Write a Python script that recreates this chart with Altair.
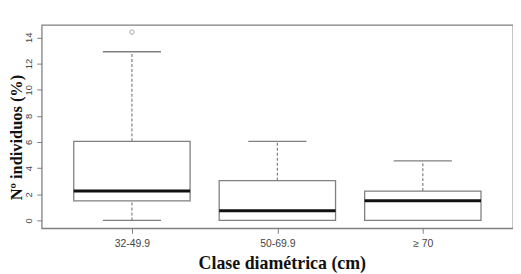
import altair as alt
import pandas as pd

categories = ["32-49.9", "50-69.9", "≥ 70"]
positions = [1, 2, 3]
lower_whisker = [0.0, 0.0, 0.0]
q1 = [1.5, 0.0, 0.0]
median = [2.25, 0.75, 1.5]
q3 = [6.05, 3.05, 2.25]
upper_whisker = [12.9, 6.05, 4.55]
outlier_pos = [1]
outlier_val = [14.4]
y_ticks = [0, 2, 4, 6, 8, 10, 12, 14]

df = pd.DataFrame({
    "cat": categories, "pos": positions, "lw": lower_whisker, "q1": q1,
    "med": median, "q3": q3, "uw": upper_whisker,
})
out_df = pd.DataFrame({"pos": outlier_pos, "val": outlier_val})

GRAY = "#808080"
label_expr = "[" + ",".join("'" + c + "'" for c in categories) + "][datum.value - 1]"

x_scale = alt.Scale(domain=[0.38, 3.62], nice=False, zero=False)
y_scale = alt.Scale(domain=[-0.6, 14.95], nice=False, zero=False)

xaxis = alt.Axis(
    values=positions, labelExpr=label_expr, title="Clase diamétrica (cm)",
    domain=False, grid=False, ticks=True, tickSize=5, tickColor=GRAY,
    labelFont="Liberation Sans", labelFontSize=10.5, labelColor="#444",
    labelPadding=5, titleFont="Liberation Serif", titleFontSize=18,
    titleFontWeight="bold", titleColor="#111", titleX=242, titleY=36,
    titleBaseline="middle", titleAlign="center",
)
yaxis = alt.Axis(
    values=y_ticks, title="Nº individuos (%)", domain=False, grid=False,
    tickSize=5, tickColor=GRAY, labelAngle=-90, labelAlign="center",
    labelBaseline="bottom", labelPadding=3, labelFont="Liberation Sans",
    labelFontSize=9.5, labelColor="#444", titleFont="Liberation Serif",
    titleFontSize=16.5, titleFontWeight="bold", titleColor="#111",
    titleAngle=-90, titleX=-25, titleY=113, titleAlign="center",
    titleBaseline="middle",
)

base = alt.Chart(df).transform_calculate(
    xl="datum.pos - 0.4", xr="datum.pos + 0.4",
    cl="datum.pos - 0.2", cr="datum.pos + 0.2",
)

X = lambda f: alt.X(f, scale=x_scale, axis=xaxis)
Y = lambda f: alt.Y(f, scale=y_scale, axis=yaxis)

whisk_lo = base.mark_rule(color=GRAY, strokeDash=[3, 2], strokeWidth=1.2).encode(
    x=X("pos:Q"), y=Y("lw:Q"), y2="q1:Q")
whisk_hi = base.mark_rule(color=GRAY, strokeDash=[3, 2], strokeWidth=1.2).encode(
    x=X("pos:Q"), y=Y("q3:Q"), y2="uw:Q")
cap_lo = base.mark_rule(color=GRAY, strokeWidth=1.3).encode(
    x=X("cl:Q"), x2="cr:Q", y=Y("lw:Q"))
cap_hi = base.mark_rule(color=GRAY, strokeWidth=1.3).encode(
    x=X("cl:Q"), x2="cr:Q", y=Y("uw:Q"))
box = base.mark_rect(fill="white", stroke=GRAY, strokeWidth=1.3).encode(
    x=X("xl:Q"), x2="xr:Q", y=Y("q1:Q"), y2="q3:Q")
med = base.mark_rule(color="#111", strokeWidth=3).encode(
    x=X("xl:Q"), x2="xr:Q", y=Y("med:Q"))
outl = alt.Chart(out_df).mark_point(shape="circle", filled=False, color=GRAY, size=20, strokeWidth=1).encode(
    x=X("pos:Q"), y=Y("val:Q"))

chart = alt.layer(whisk_lo, whisk_hi, cap_lo, cap_hi, box, med, outl).properties(
    width=475, height=205,
    autosize=alt.AutoSizeParams(type="none"),
    padding={"left": 34, "top": 16, "right": 0, "bottom": 46},
    background="white",
).configure_view(stroke=GRAY, strokeWidth=1.3)

chart.save("out.html", embed_options={"renderer": "svg", "actions": False})
